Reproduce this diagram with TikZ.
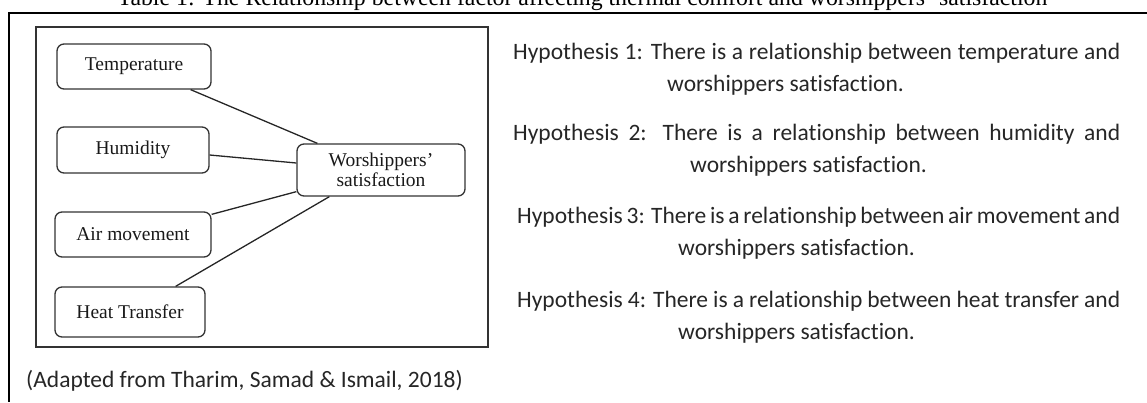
\documentclass[tikz,border=0pt]{standalone}
\usepackage{fontspec}
\setmainfont{Liberation Serif}
\newfontfamily\hypfont[Ligatures=NoCommon]{Carlito}
\usetikzlibrary{calc}
\begin{document}
\begin{tikzpicture}[x=1pt,y=-1pt,
  factor/.style={draw=black!80, line width=1.3pt, rounded corners=7pt, inner sep=0pt,
    font=\fontsize{19.5}{20}\selectfont, text=black!90},
  link/.style={draw=black!85, line width=1.3pt},
  hyp/.style={font=\hypfont\fontsize{23.5}{26}\selectfont, inner sep=0pt, text=black!85},
  frameline/.style={draw=black}]
\useasboundingbox (0,0) rectangle (1147,402);
\clip (0,0) rectangle (1147,402);
% caption (cut off at top)
\node[anchor=base, font=\fontsize{23.8}{26}\selectfont, inner sep=0pt] (cap) at (582.5,5)
  {Table 1: The Relationship between factor affecting thermal comfort and worshippers' satisfaction};
% table frame lines
\coordinate (tl) at (8,13);
\coordinate (tr) at (1147,13);
\coordinate (lt) at (9,12);
\coordinate (lb) at (9,402);
\draw[frameline, line width=2.4pt] (tl) -- (tr);
\draw[frameline, line width=1.6pt] (lt) -- (lb);
% inner figure frame
\node[draw=black!80, line width=1.4pt, minimum width=452pt, minimum height=320pt, inner sep=0pt] (frame) at (262,187) {};
% factor boxes
\node[factor, minimum width=154pt, minimum height=45pt] (temp) at (134,66.5) {Temperature};
\node[factor, minimum width=152pt, minimum height=46pt] (hum) at (133,150) {Humidity};
\node[factor, minimum width=156pt, minimum height=45pt] (air) at (133,234.5) {Air movement};
\node[factor, minimum width=150pt, minimum height=50pt] (heat) at (130,312) {Heat Transfer};
\node[factor, minimum width=168pt, minimum height=52pt, align=center] (ws) at (381,170) {Worshippers’\\satisfaction};
% connectors
\draw[link] ([xshift=-21pt]temp.south east) -- ([xshift=21pt]ws.north west);
\draw[link] ([yshift=-5pt]hum.east) -- ([yshift=7pt]ws.west);
\draw[link] ([yshift=-3pt]air.north east) -- ([yshift=5pt]ws.south west);
\draw[link] ([xshift=-30pt]heat.north east) -- ([xshift=33pt]ws.south west);
% hypotheses
\node[hyp, anchor=base west] (h1a) at (513,59) {\hbox to 607pt{Hypothesis 1: There is a relationship between temperature and}};
\node[hyp, anchor=base west] (h1b) at (667,91) {worshippers satisfaction.};
\node[hyp, anchor=base west] (h2a) at (513,140) {\hbox to 607pt{Hypothesis 2: There is a relationship between humidity and}};
\node[hyp, anchor=base west] (h2b) at (690,172) {worshippers satisfaction.};
\node[hyp, anchor=base west] (h3a) at (517,223) {\hbox to 603pt{Hypothesis 3: There is a relationship between air movement and}};
\node[hyp, anchor=base west] (h3b) at (678,255) {worshippers satisfaction.};
\node[hyp, anchor=base west] (h4a) at (517,307) {\hbox to 603pt{Hypothesis 4: There is a relationship between heat transfer and}};
\node[hyp, anchor=base west] (h4b) at (678,339) {worshippers satisfaction.};
% source
\node[hyp, anchor=base west] (src) at (26,387) {(Adapted from Tharim, Samad \& Ismail, 2018)};
\end{tikzpicture}
\end{document}
